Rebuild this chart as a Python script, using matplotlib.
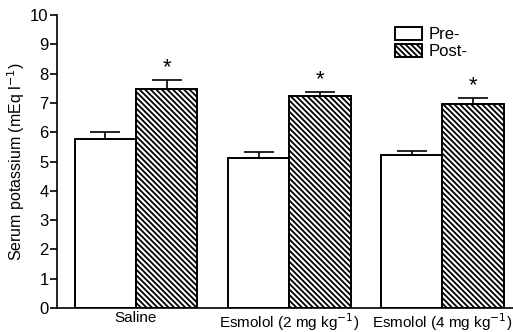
import numpy as np
import matplotlib.pyplot as plt

plt.rcParams['font.family'] = ['Liberation Sans', 'DejaVu Sans']
plt.rcParams['hatch.linewidth'] = 1.3

# data
groups = ['Saline', 'Esmolol (2 mg kg$^{-1}$)', 'Esmolol (4 mg kg$^{-1}$)']
pre = [5.77, 5.12, 5.22]
pre_err = [0.23, 0.21, 0.14]
post = [7.47, 7.24, 6.96]
post_err = [0.31, 0.13, 0.21]

x = np.arange(len(groups))
w = 0.40

fig = plt.figure(figsize=(5.13, 3.32), dpi=100)
ax = fig.add_axes([0.111, 0.072, 0.889, 0.883])

ax.bar(x - w / 2, pre, w, color='white', edgecolor='black', linewidth=1.4,
       label='Pre-')
ax.bar(x + w / 2, post, w, color='white', edgecolor='black', linewidth=1.4,
       hatch='\\\\\\\\\\\\', label='Post-')

# one-sided error bars
ax.errorbar(x - w / 2, pre, yerr=[np.zeros(3), pre_err], fmt='none',
            ecolor='black', elinewidth=1.2, capsize=11, capthick=1.2)
ax.errorbar(x + w / 2, post, yerr=[np.zeros(3), post_err], fmt='none',
            ecolor='black', elinewidth=1.2, capsize=11, capthick=1.2)

for xi, v, e in zip(x, post, post_err):
    ax.text(xi + w / 2, v + e + 0.05, '*', ha='center', va='bottom',
            fontsize=16)

ax.set_xlim(-0.515, 2.46)
ax.set_ylim(0, 10)
ax.set_yticks(range(0, 11))
ax.set_xticks(x)
ax.set_xticklabels(groups, fontsize=11)
ax.tick_params(axis='x', length=0, pad=2)
ax.tick_params(axis='y', labelsize=12, direction='out', length=5, pad=1,
               width=1.2)
ax.set_ylabel('Serum potassium (mEq l$^{-1}$)', fontsize=11.5, labelpad=2)
ax.spines['top'].set_visible(False)
ax.spines['right'].set_visible(False)
ax.spines['left'].set_linewidth(1.2)
ax.spines['bottom'].set_linewidth(1.2)

ax.legend(loc='upper right', bbox_to_anchor=(0.925, 1.0), frameon=False,
          fontsize=12, handlelength=1.6, handleheight=0.85,
          handletextpad=0.4, labelspacing=0.1, borderpad=0.2)

fig.savefig('out.png', dpi=100)
